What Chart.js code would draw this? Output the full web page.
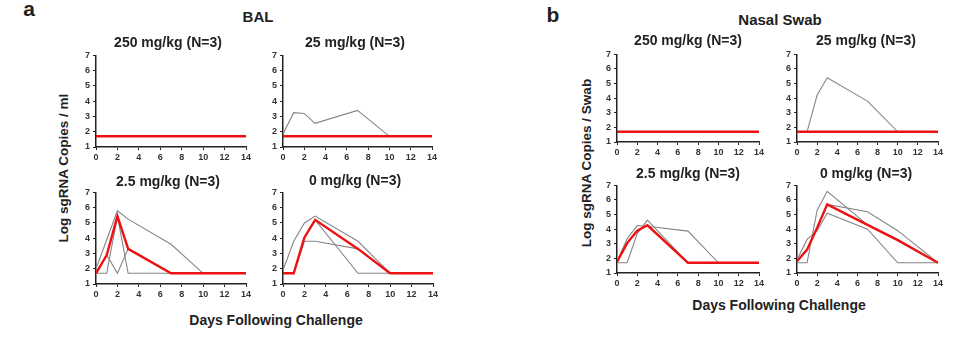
<!DOCTYPE html>
<html>
<head>
<meta charset="utf-8">
<script src="https://cdn.jsdelivr.net/npm/chart.js@4"></script>
<style>
  body { margin: 0; background: #fff; width: 959px; height: 338px; position: relative; overflow: hidden;
         font-family: "Liberation Sans", Arial, sans-serif; color: #222; }
  canvas { position: absolute; }
  .t { position: absolute; font-weight: bold; white-space: nowrap; transform: translate(-50%, -50%); }
  .rot { transform: translate(-50%, -50%) rotate(-90deg); }
</style>
</head>
<body>
<div class="t" style="left:29px;top:9px;font-size:21px;">a</div>
<div class="t" style="left:553px;top:15px;font-size:21px;">b</div>
<div class="t" style="left:258px;top:16px;font-size:15px;">BAL</div>
<div class="t" style="left:780px;top:19px;font-size:15px;">Nasal Swab</div>
<div class="t rot" style="left:63px;top:168px;font-size:13.5px;">Log sgRNA Copies / ml</div>
<div class="t rot" style="left:586px;top:163px;font-size:13.5px;">Log sgRNA Copies / Swab</div>
<div class="t" style="left:276px;top:320px;font-size:14px;">Days Following Challenge</div>
<div class="t" style="left:779px;top:305px;font-size:14px;">Days Following Challenge</div>
<script>
// sampling days
const days = [0, 1, 2, 3, 7, 10, 14];

// BAL, individual animals (grey) and median (red)
const bal250Animals = [
  [1.7, 1.7, 1.7, 1.7, 1.7, 1.7, 1.7],
  [1.7, 1.7, 1.7, 1.7, 1.7, 1.7, 1.7],
  [1.7, 1.7, 1.7, 1.7, 1.7, 1.7, 1.7]
];
const bal250Median = [1.7, 1.7, 1.7, 1.7, 1.7, 1.7, 1.7];

const bal25Animals = [
  [1.85, 3.25, 3.2, 2.55, 3.4, 1.7, 1.7],
  [1.7, 1.7, 1.7, 1.7, 1.7, 1.7, 1.7],
  [1.7, 1.7, 1.7, 1.7, 1.7, 1.7, 1.7]
];
const bal25Median = [1.7, 1.7, 1.7, 1.7, 1.7, 1.7, 1.7];

const bal2p5Animals = [
  [2.0, 3.9, 5.8, 5.25, 3.6, 1.7, 1.7],
  [1.7, 1.7, 5.45, 1.7, 1.7, 1.7, 1.7],
  [1.7, 2.9, 1.7, 3.3, 1.7, 1.7, 1.7]
];
const bal2p5Median = [1.7, 2.9, 5.45, 3.3, 1.7, 1.7, 1.7];

const bal0Animals = [
  [1.9, 3.8, 5.0, 5.45, 3.8, 1.7, 1.7],
  [1.7, 1.7, 3.8, 3.8, 3.3, 1.7, 1.7],
  [1.7, 1.7, 4.05, 5.2, 1.7, 1.7, 1.7]
];
const bal0Median = [1.7, 1.7, 4.05, 5.2, 3.3, 1.7, 1.7];

// Nasal swab
const ns250Animals = [
  [1.7, 1.7, 1.7, 1.7, 1.7, 1.7, 1.7],
  [1.7, 1.7, 1.7, 1.7, 1.7, 1.7, 1.7],
  [1.7, 1.7, 1.7, 1.7, 1.7, 1.7, 1.7]
];
const ns250Median = [1.7, 1.7, 1.7, 1.7, 1.7, 1.7, 1.7];

const ns25Animals = [
  [1.7, 1.7, 4.22, 5.4, 3.8, 1.7, 1.7],
  [1.7, 1.7, 1.7, 1.7, 1.7, 1.7, 1.7],
  [1.7, 1.7, 1.7, 1.7, 1.7, 1.7, 1.7]
];
const ns25Median = [1.7, 1.7, 1.7, 1.7, 1.7, 1.7, 1.7];

const ns2p5Animals = [
  [1.7, 1.7, 3.7, 4.62, 1.7, 1.7, 1.7],
  [1.8, 3.35, 4.25, 4.2, 3.87, 1.7, 1.7],
  [1.75, 3.05, 3.9, 4.27, 1.7, 1.7, 1.7]
];
const ns2p5Median = [1.75, 3.05, 3.9, 4.27, 1.7, 1.7, 1.7];

const ns0Animals = [
  [1.7, 1.7, 5.3, 6.6, 4.3, 3.3, 1.7],
  [1.8, 2.6, 4.1, 5.7, 5.2, 3.9, 1.7],
  [1.9, 3.3, 3.9, 5.1, 4.0, 1.7, 1.7]
];
const ns0Median = [1.8, 2.6, 4.1, 5.7, 4.3, 3.25, 1.7];

const panels = [
  { animals: bal250Animals, median: bal250Median, title: '250 mg/kg (N=3)', box: [96, 53, 150, 94], tx: 168, ty: 42 },
  { animals: bal25Animals, median: bal25Median, title: '25 mg/kg (N=3)', box: [283, 53, 149, 94], tx: 355, ty: 42 },
  { animals: bal2p5Animals, median: bal2p5Median, title: '2.5 mg/kg (N=3)', box: [96, 190, 150, 94], tx: 168, ty: 181 },
  { animals: bal0Animals, median: bal0Median, title: '0 mg/kg (N=3)', box: [283, 190, 150, 94], tx: 355, ty: 180 },
  { animals: ns250Animals, median: ns250Median, title: '250 mg/kg (N=3)', box: [617, 52, 142, 90], tx: 688, ty: 40 },
  { animals: ns25Animals, median: ns25Median, title: '25 mg/kg (N=3)', box: [797, 52, 141, 90], tx: 866, ty: 40 },
  { animals: ns2p5Animals, median: ns2p5Median, title: '2.5 mg/kg (N=3)', box: [617, 183, 142, 90], tx: 688, ty: 173 },
  { animals: ns0Animals, median: ns0Median, title: '0 mg/kg (N=3)', box: [797, 183, 141, 90], tx: 866, ty: 173 }
];

const padL = 22, padT = 6, padR = 8, padB = 19;
const tickFont = { family: '"Liberation Sans", Arial, sans-serif', size: 9, weight: 'bold' };

function pts(vals) {
  return vals.map((v, i) => ({ x: days[i], y: v }));
}

panels.forEach(p => {
  const [l, t, w, h] = p.box;
  const cv = document.createElement('canvas');
  cv.width = w + padL + padR;
  cv.height = h + padT + padB;
  cv.style.left = (l - padL) + 'px';
  cv.style.top = (t - padT) + 'px';
  document.body.appendChild(cv);

  const ttl = document.createElement('div');
  ttl.className = 't';
  ttl.style.left = p.tx + 'px';
  ttl.style.top = p.ty + 'px';
  ttl.style.fontSize = '14px';
  ttl.textContent = p.title;
  document.body.appendChild(ttl);

  const ds = [{
    data: pts(p.median),
    borderColor: '#ee1111',
    borderWidth: 2.4,
    order: 0
  }];
  p.animals.forEach(a => ds.push({
    data: pts(a),
    borderColor: '#858585',
    borderWidth: 1.1,
    order: 1
  }));

  new Chart(cv, {
    type: 'line',
    data: { datasets: ds },
    options: {
      responsive: false,
      animation: false,
      devicePixelRatio: 1,
      layout: { padding: { left: 0, top: padT, right: padR, bottom: 0 } },
      elements: { point: { radius: 0 }, line: { tension: 0 } },
      plugins: { legend: { display: false }, tooltip: { enabled: false } },
      scales: {
        x: {
          type: 'linear', min: 0, max: 14,
          afterFit(s) { s.height = padB; },
          border: { color: '#222', width: 1.5 },
          grid: { drawOnChartArea: false, drawTicks: true, tickLength: 3, tickColor: '#222' },
          ticks: { stepSize: 2, font: tickFont, color: '#333', padding: 2, maxRotation: 0 }
        },
        y: {
          min: 1, max: 7,
          afterFit(s) { s.width = padL; },
          border: { color: '#222', width: 1.5 },
          grid: { drawOnChartArea: false, drawTicks: true, tickLength: 3, tickColor: '#222' },
          ticks: { stepSize: 1, font: tickFont, color: '#333', padding: 3 }
        }
      }
    }
  });
});
</script>
</body>
</html>
